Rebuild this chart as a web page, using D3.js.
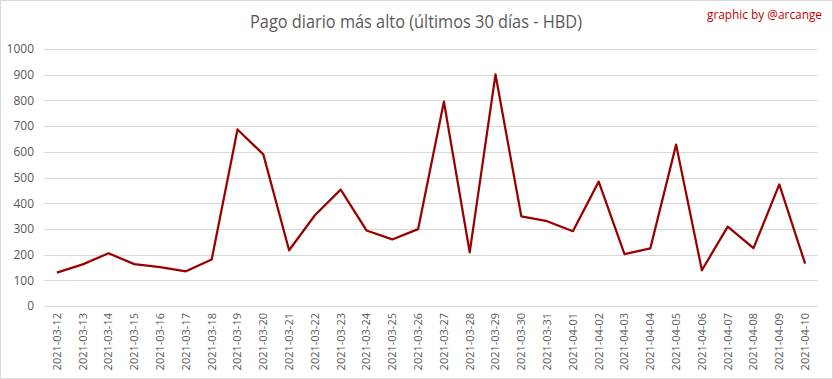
<!DOCTYPE html>
<html>
<head>
<meta charset="utf-8">
<script src="https://cdn.jsdelivr.net/npm/d3@7"></script>
<style>
  body { margin: 0; background: #fff; }
  svg { display: block; font-family: "Open Sans", sans-serif; }
</style>
</head>
<body>
<div id="mount"></div>
<script>
// daily values
var dates = ['2021-03-12', '2021-03-13', '2021-03-14', '2021-03-15', '2021-03-16', '2021-03-17',
  '2021-03-18', '2021-03-19', '2021-03-20', '2021-03-21', '2021-03-22', '2021-03-23', '2021-03-24',
  '2021-03-25', '2021-03-26', '2021-03-27', '2021-03-28', '2021-03-29', '2021-03-30', '2021-03-31',
  '2021-04-01', '2021-04-02', '2021-04-03', '2021-04-04', '2021-04-05', '2021-04-06', '2021-04-07',
  '2021-04-08', '2021-04-09', '2021-04-10'];
var payouts = [130, 162, 205, 163, 151, 135, 181, 687, 590, 217, 353, 453, 294, 259, 299,
  795, 209, 901, 349, 330, 291, 484, 202, 224, 628, 139, 309, 225, 473, 165];
var yTicks = [0, 100, 200, 300, 400, 500, 600, 700, 800, 900, 1000];

var W = 833, H = 379;
var margin = { top: 49, right: 15, bottom: 73, left: 44 };
var width = W - margin.left - margin.right,
    height = H - margin.top - margin.bottom;

var svg = d3.select('#mount').append('svg')
    .attr('width', W)
    .attr('height', H);

// outer chart border
svg.append('rect')
    .attr('x', 0.5).attr('y', 0.5)
    .attr('width', W - 1).attr('height', H - 1)
    .attr('fill', '#fff')
    .attr('stroke', '#d9d9d9');

// squeeze the text to the narrow width of the original font
svg.append('text')
    .attr('x', 250).attr('y', 28)
    .attr('textLength', 332)
    .attr('lengthAdjust', 'spacingAndGlyphs')
    .style('font-size', '19px')
    .style('fill', '#595959')
    .text('Pago diario más alto (últimos 30 días - HBD)');

svg.append('text')
    .attr('x', 707).attr('y', 19)
    .attr('textLength', 115)
    .attr('lengthAdjust', 'spacingAndGlyphs')
    .style('font-size', '12px')
    .style('fill', '#c00000')
    .text('graphic by @arcange');

var graph = svg.append('g')
    .attr('transform', `translate(${margin.left},${margin.top})`);

var x = d3.scaleBand()
    .domain(dates)
    .range([0, width]);

var y = d3.scaleLinear()
    .domain([0, 1000])
    .range([height, 0]);

// horizontal gridlines
graph.selectAll('.grid')
    .data(yTicks)
  .enter().append('line')
    .attr('class', 'grid')
    .attr('x1', 0).attr('x2', width)
    .attr('y1', d => Math.round(y(d)) + 0.5)
    .attr('y2', d => Math.round(y(d)) + 0.5)
    .attr('stroke', '#d9d9d9');

var yAxis = d3.axisLeft(y).tickValues(yTicks).tickFormat(d3.format('d')).tickSize(0).tickPadding(10);
graph.append('g')
    .attr('class', 'y-axis')
    .call(yAxis)
    .call(g => g.select('.domain').remove())
    .selectAll('text')
      .style('font-size', '12px')
      .style('fill', '#595959')
      .style('font-family', '"Open Sans", sans-serif');

var xAxis = d3.axisBottom(x).tickSize(0).tickPadding(0);
graph.append('g')
    .attr('class', 'x-axis')
    .attr('transform', `translate(0, ${height})`)
    .call(xAxis)
    .call(g => g.select('.domain').remove())
    .selectAll('text')
      .attr('transform', 'rotate(-90)')
      .attr('x', -7)
      .attr('y', 0)
      .attr('dy', '0.35em')
      .style('text-anchor', 'end')
      .style('font-size', '11px')
      .style('fill', '#595959')
      .style('font-family', '"Open Sans", sans-serif');

var line = d3.line()
    .x((d, i) => x(dates[i]) + x.bandwidth() / 2)
    .y(d => y(d));

graph.append('path')
    .datum(payouts)
    .attr('fill', 'none')
    .attr('stroke', '#990000')
    .attr('stroke-width', 2.25)
    .attr('stroke-linejoin', 'round')
    .attr('d', line);
</script>
</body>
</html>
